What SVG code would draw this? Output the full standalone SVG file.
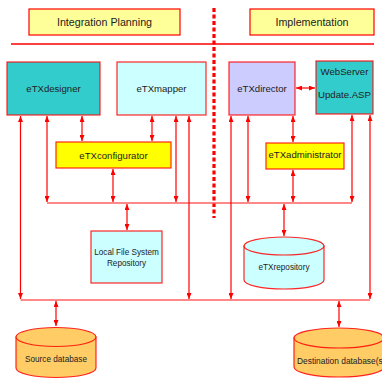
<svg xmlns="http://www.w3.org/2000/svg" width="382" height="379" viewBox="0 0 382 379">
<defs>
<marker id="ah" markerUnits="userSpaceOnUse" markerWidth="6" markerHeight="5" refX="6" refY="2.5" orient="auto-start-reverse"><path d="M0,0 L6,2.5 L0,5 z" fill="#ff0000"/></marker>
<style>
text{font-family:"Liberation Sans",Arial,sans-serif;fill:#222;text-anchor:middle}
.hdr{fill:#ffff99;stroke:#ff0000;stroke-width:1.2}
.box{stroke:#ff0000;stroke-width:1.2;stroke-opacity:0.85}
.t1{font-size:10.7px}
.t2{font-size:9.6px}
.t3{font-size:8.2px}
.a{stroke:#ff0000;stroke-width:1.2;fill:none;marker-start:url(#ah);marker-end:url(#ah)}
.bus{stroke:#ff6060;stroke-width:1.6;fill:none}
</style>
</defs>
<line x1="11" y1="44" x2="374" y2="44" stroke="#ff0000" stroke-width="1.4"/>
<line x1="214" y1="8" x2="214" y2="218" stroke="#ff0000" stroke-width="3.2" stroke-dasharray="4 2.5"/>
<g id="hdr-integration"><rect class="hdr" x="29" y="9" width="151" height="26"/><text class="t1" x="104.5" y="26">Integration Planning</text></g>
<g id="hdr-implementation"><rect class="hdr" x="250" y="9" width="124" height="26"/><text class="t1" x="312" y="26">Implementation</text></g>
<g id="connectors">
<line class="bus" x1="47" y1="203" x2="352" y2="203"/>
<line class="bus" x1="20.5" y1="300" x2="370" y2="300"/>
<line class="a" x1="20.5" y1="116" x2="20.5" y2="299"/>
<line class="a" x1="47" y1="116" x2="47" y2="202"/>
<line class="a" x1="82" y1="116" x2="82" y2="141"/>
<line class="a" x1="152" y1="116" x2="152" y2="141"/>
<line class="a" x1="176" y1="116" x2="176" y2="202"/>
<line class="a" x1="189" y1="116" x2="189" y2="299"/>
<line class="a" x1="113" y1="169" x2="113" y2="202"/>
<line class="a" x1="127" y1="204" x2="127" y2="230"/>
<line class="a" x1="231" y1="116" x2="231" y2="299"/>
<line class="a" x1="248" y1="116" x2="248" y2="202"/>
<line class="a" x1="293" y1="116" x2="293" y2="142"/>
<line class="a" x1="293" y1="170" x2="293" y2="202"/>
<line class="a" x1="352" y1="115" x2="352" y2="202"/>
<line class="a" x1="370" y1="115" x2="370" y2="299"/>
<line class="a" x1="296" y1="88" x2="315" y2="88"/>
<line class="a" x1="284" y1="204" x2="284" y2="236"/>
<line class="a" x1="56" y1="301" x2="56" y2="326"/>
<line class="a" x1="339" y1="301" x2="339" y2="327"/>
</g>
<g id="eTXdesigner"><rect class="box" x="7" y="62" width="93" height="53" fill="#33cccc"/><text class="t2" x="53.5" y="92">eTXdesigner</text></g>
<g id="eTXmapper"><rect class="box" x="117" y="62" width="89" height="53" fill="#ccffff"/><text class="t2" x="161.5" y="92">eTXmapper</text></g>
<g id="eTXdirector"><rect class="box" x="229" y="62" width="66" height="53" fill="#ccccff"/><text class="t2" x="262" y="92">eTXdirector</text></g>
<g id="WebServer"><rect class="box" x="316" y="61" width="57" height="53" fill="#33cccc"/><text class="t2" x="344.5" y="74.5">WebServer</text><text class="t2" x="344.5" y="97.5">Update.ASP</text></g>
<g id="eTXconfigurator"><rect class="box" x="56" y="142" width="115" height="26" fill="#ffff00"/><text class="t2" x="113.5" y="158.5">eTXconfigurator</text></g>
<g id="eTXadministrator"><rect class="box" x="266" y="143" width="78" height="26" fill="#ffff00"/><text class="t2" x="305" y="158">eTXadministrator</text></g>
<g id="LocalFileSystem"><rect class="box" x="91" y="231" width="71" height="52" fill="#ccffff"/><text class="t3" x="126.5" y="255">Local File System</text><text class="t3" x="126.5" y="266">Repository</text></g>
<g id="eTXrepository"><path class="box" d="M244,246 V280 A40,9 0 0 0 324,280 V246 Z" fill="#ccffff"/><ellipse class="box" cx="284" cy="246" rx="40" ry="9" fill="#ccffff"/><text class="t3" x="284" y="270">eTXrepository</text></g>
<g id="SourceDatabase"><path class="box" d="M16,337 V368 A40,9.5 0 0 0 96,368 V337 Z" fill="#ffcc66"/><ellipse class="box" cx="56" cy="337" rx="40" ry="9.5" fill="#ffcc66"/><text class="t3" x="56" y="362">Source database</text></g>
<g id="DestinationDatabase"><path class="box" d="M294,338 V367 A45,10 0 0 0 384,367 V338 Z" fill="#ffcc66"/><ellipse class="box" cx="339" cy="338" rx="45" ry="10" fill="#ffcc66"/><text class="t3" x="297" y="364" style="text-anchor:start;font-size:8.4px">Destination database(s)</text></g>
</svg>
